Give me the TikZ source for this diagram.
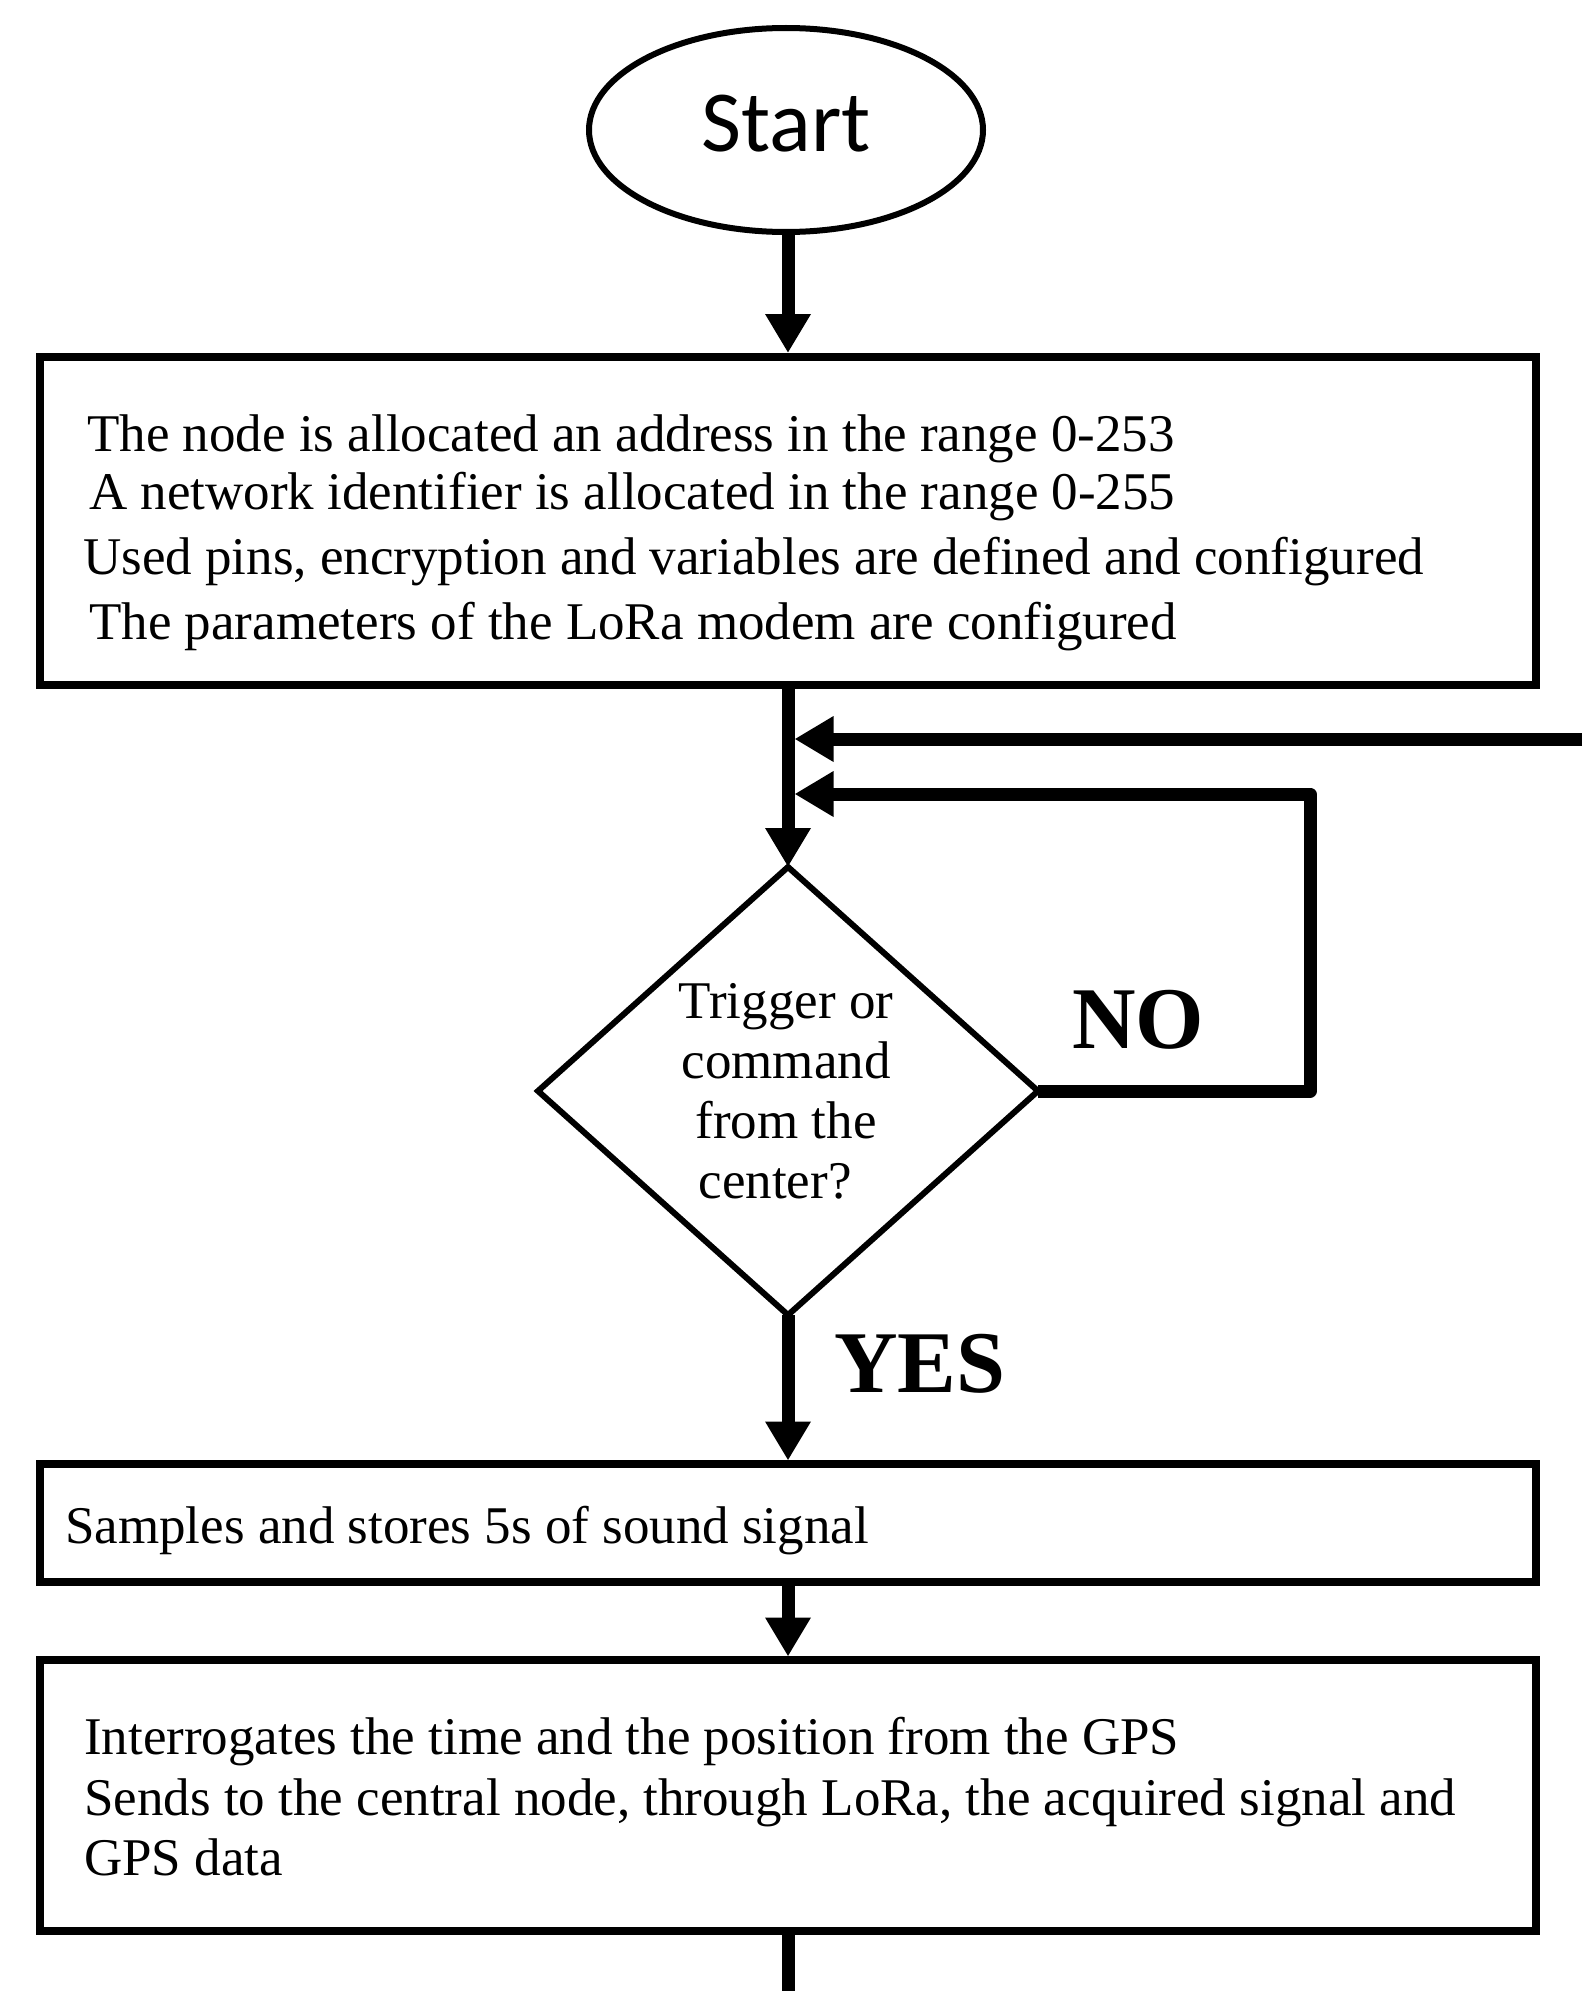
\documentclass[tikz,border=0pt]{standalone}
\usepackage{fontspec}
\setmainfont{Liberation Serif}
\newfontfamily\startfont{Carlito}
\usetikzlibrary{shapes.geometric,arrows.meta,calc}
\tikzset{
  flowbox/.style={draw, line width=8pt, rectangle, minimum width=1496pt, inner sep=0pt, outer sep=3.5pt, anchor=north west},
  txt/.style={anchor=base west, inner sep=0pt, font=\fontsize{53pt}{60pt}\selectfont},
  arr/.style={line width=13pt, -{Triangle[length=39pt,width=43pt]}},
  plainline/.style={line width=13pt},
  lbl/.style={anchor=base west, inner sep=0pt, font=\fontsize{88pt}{100pt}\selectfont\bfseries},
  startshape/.style={draw, ellipse, line width=6pt, minimum width=394pt, minimum height=204pt,
    inner sep=0pt, font=\startfont\fontsize{87pt}{100pt}\selectfont, text height=57pt, text depth=13pt},
  decision/.style={draw, diamond, line width=6pt, minimum width=500pt, minimum height=448pt, inner sep=0pt, outer sep=0pt},
}
\begin{document}
\begin{tikzpicture}[x=1pt,y=-1pt]
\useasboundingbox[fill=white] (0,0) rectangle (1582,1991);

% Start
\node[startshape] (start) at (786,130) {Start};

% Box 1
\node[flowbox, minimum height=328.5pt] (box1) at (36.5,353) {};
\node[txt] (t1a) at (87,451) {The node is allocated an address in the range 0-253};
\node[txt] (t1b) at (89,509) {A network identifier is allocated in the range 0-255};
\node[txt] (t1c) at (83,574) {Used pins, encryption and variables are defined and configured};
\node[txt] (t1d) at (89,639) {The parameters of the LoRa modem are configured};

% Decision
\node[decision] (dia) at (788,1091) {};
\node[align=center, inner sep=0pt, font=\fontsize{53pt}{60pt}\selectfont] (diatext) at (786,1091)
  {Trigger or\\command\\from the\hspace*{5pt}\\center?\hspace*{22pt}};
\node[lbl] (no) at (1072,1048) {NO};
\node[lbl] (yes) at (834,1392) {YES};

% Box 2
\node[flowbox, minimum height=118pt] (box2) at (36.5,1460.5) {};
\node[txt] (t2) at (65,1543) {Samples and stores 5s of sound signal};

% Box 3
\node[flowbox, minimum height=271pt] (box3) at (36.5,1656.5) {};
\node[txt] (t3a) at (84,1754) {Interrogates the time and the position from the GPS};
\node[txt] (t3b) at (84,1815) {Sends to the central node, through LoRa, the acquired signal and};
\node[txt] (t3c) at (84,1875) {GPS data};

% connectors
\coordinate (ret) at (1582,739);
\coordinate (noR) at (1310,794);
\coordinate (endc) at (788,1991);

\draw[arr] (start.south -| box1.north) -- (box1.north);
\draw[arr] (box1.south) -- (dia.north);
\draw[arr] (ret) -- ($(dia.north |- ret)+(6.5,0)$);
\draw[arr, line join=round] (dia.east) -| (noR) -- ($(dia.north |- noR)+(6.5,0)$);
\draw[arr] (dia.south) -- (box2.north);
\draw[arr] (box2.south) -- (box3.north);
\draw[plainline] (box3.south) -- (endc);
\end{tikzpicture}
\end{document}
